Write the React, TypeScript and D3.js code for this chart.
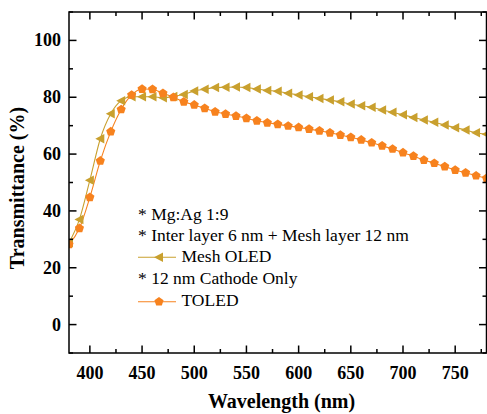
import React from "react";
import * as d3 from "d3";

const wavelengths = [380,390,400,410,420,430,440,450,460,470,480,490,500,510,520,530,540,550,560,570,580,590,600,610,620,630,640,650,660,670,680,690,700,710,720,730,740,750,760,770,780];
const meshOLED = [28.8,37.0,50.8,65.4,74.2,78.8,80.2,80.2,80.2,79.8,80.3,81.0,82.2,82.8,83.4,83.5,83.6,83.4,82.9,82.4,82.1,81.4,80.8,80.2,79.6,79.0,78.4,77.6,77.0,76.5,75.5,74.7,73.8,72.9,72.0,71.2,70.2,69.3,68.5,67.5,67.0];
const toled = [28.2,33.9,44.8,57.6,67.9,75.7,80.8,82.9,82.8,81.4,80.0,78.4,77.3,76.1,74.9,74.1,73.4,72.6,71.7,71.0,70.5,69.9,69.4,68.8,68.2,67.5,66.7,65.9,65.0,64.0,62.9,61.8,60.5,59.3,57.9,56.8,55.6,54.4,53.4,52.4,51.5];
const xMajor = [400,450,500,550,600,650,700,750];
const xMinor = [425,475,525,575,625,675,725,775];
const yMajor = [0,20,40,60,80,100];
const yMinor = [-10,10,30,50,70,90,110];
const legendNotes = ["* Mg:Ag 1:9", "* Inter layer 6 nm + Mesh layer 12 nm", "* 12 nm Cathode Only"];
const seriesNames = ["Mesh OLED", "TOLED"];

const W = 487, H = 414;
const L = 69, R = 486.5, T = 12, B = 353;
const GOLD = "#C9A02E";
const ORANGE = "#F7821E";
const FONT = "'Liberation Serif', 'Times New Roman', serif";

function tri(cx: number, cy: number, s: number) {
  return `M${cx - s},${cy} L${cx + s * 0.8},${cy - s * 0.95} L${cx + s * 0.8},${cy + s * 0.95} Z`;
}
function pent(cx: number, cy: number, r: number) {
  const pts = d3.range(5).map(i => {
    const a = -Math.PI / 2 + i * 2 * Math.PI / 5;
    return [cx + r * Math.cos(a), cy + r * Math.sin(a)];
  });
  return "M" + pts.map(p => p.join(",")).join("L") + "Z";
}

export default function App() {
  const x = d3.scaleLinear().domain([380, 780]).range([L, R]);
  const y = d3.scaleLinear().domain([-10, 110]).range([B, T]);
  const line = d3.line<number>().x((_, i) => x(wavelengths[i])).y(d => y(d)).curve(d3.curveMonotoneX);

  const legendX = 138;
  const baselines = [220, 240.8, 262, 284, 306];
  const lineY = [257.3, 301.7];
  const LF = 17.5;

  return (
    <svg width={W} height={H} style={{ position: "fixed", left: 0, top: 0, display: "block", background: "#fff" }}>
      <defs>
        <clipPath id="plot"><rect x={L} y={T} width={R - L} height={B - T} /></clipPath>
      </defs>
      <g clipPath="url(#plot)">
        <path d={line(meshOLED) || ""} fill="none" stroke={GOLD} strokeWidth={1.1} />
        <path d={line(toled) || ""} fill="none" stroke={ORANGE} strokeWidth={1.1} />
        {meshOLED.map((v, i) => (
          <path key={"m" + i} d={tri(x(wavelengths[i]), y(v), 5)} fill={GOLD} />
        ))}
        {toled.map((v, i) => (
          <path key={"t" + i} d={pent(x(wavelengths[i]), y(v), 4.8)} fill={ORANGE} />
        ))}
      </g>
      <rect x={L} y={T} width={R - L} height={B - T} fill="none" stroke="#000" strokeWidth={1.5} />
      {xMajor.map(v => (
        <g key={"xM" + v}>
          <line x1={x(v)} x2={x(v)} y1={B} y2={B - 7.5} stroke="#000" strokeWidth={1.5} />
          <line x1={x(v)} x2={x(v)} y1={T} y2={T + 7.5} stroke="#000" strokeWidth={1.5} />
          <text x={x(v)} y={379} textAnchor="middle" fontFamily={FONT} fontWeight="bold" fontSize={18}>{v}</text>
        </g>
      ))}
      {xMinor.map(v => (
        <g key={"xm" + v}>
          <line x1={x(v)} x2={x(v)} y1={B} y2={B - 4} stroke="#000" strokeWidth={1.5} />
          <line x1={x(v)} x2={x(v)} y1={T} y2={T + 4} stroke="#000" strokeWidth={1.5} />
        </g>
      ))}
      {yMajor.map(v => (
        <g key={"yM" + v}>
          <line x1={L} x2={L + 7.5} y1={y(v)} y2={y(v)} stroke="#000" strokeWidth={1.5} />
          <line x1={R} x2={R - 7.5} y1={y(v)} y2={y(v)} stroke="#000" strokeWidth={1.5} />
          <text x={61} y={y(v) + 6} textAnchor="end" fontFamily={FONT} fontWeight="bold" fontSize={18}>{v}</text>
        </g>
      ))}
      {yMinor.map(v => (
        <g key={"ym" + v}>
          <line x1={L} x2={L + 4} y1={y(v)} y2={y(v)} stroke="#000" strokeWidth={1.5} />
          <line x1={R} x2={R - 4} y1={y(v)} y2={y(v)} stroke="#000" strokeWidth={1.5} />
        </g>
      ))}
      <text x={281.5} y={407.5} textAnchor="middle" fontFamily={FONT} fontWeight="bold" fontSize={20}>Wavelength (nm)</text>
      <text transform={`translate(23.5,188) rotate(-90)`} textAnchor="middle" fontFamily={FONT} fontWeight="bold" fontSize={20}>Transmittance (%)</text>

      <text x={legendX} y={baselines[0]} fontFamily={FONT} fontSize={LF}>{legendNotes[0]}</text>
      <text x={legendX} y={baselines[1]} fontFamily={FONT} fontSize={LF}>{legendNotes[1]}</text>
      <line x1={legendX} x2={176} y1={lineY[0]} y2={lineY[0]} stroke={GOLD} strokeWidth={1.1} />
      <path d={tri(159, lineY[0], 5)} fill={GOLD} />
      <text x={181.5} y={baselines[2]} fontFamily={FONT} fontSize={LF}>{seriesNames[0]}</text>
      <text x={legendX} y={baselines[3]} fontFamily={FONT} fontSize={LF}>{legendNotes[2]}</text>
      <line x1={legendX} x2={176} y1={lineY[1]} y2={lineY[1]} stroke={ORANGE} strokeWidth={1.1} />
      <path d={pent(159, lineY[1], 4.8)} fill={ORANGE} />
      <text x={181.5} y={baselines[4]} fontFamily={FONT} fontSize={LF}>{seriesNames[1]}</text>
    </svg>
  );
}
